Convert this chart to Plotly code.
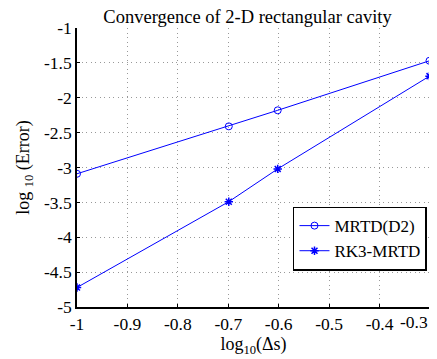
import plotly.graph_objects as go

log_ds = [-1.0, -0.699, -0.602, -0.301]
mrtd_d2 = [-3.09, -2.41, -2.18, -1.47]
rk3_mrtd = [-4.72, -3.49, -3.02, -1.69]

x_ticks = [-1, -0.9, -0.8, -0.7, -0.6, -0.5, -0.4, -0.3]
x_ticktext = ["-1", "-0.9", "-0.8", "-0.7", "-0.6", "-0.5", "-0.4", ""]
last_x_label = "-0.3"
y_ticks = [-5, -4.5, -4, -3.5, -3, -2.5, -2, -1.5, -1]
y_ticktext = ["-5", "-4.5", "-4", "-3.5", "-3", "-2.5", "-2", "-1.5", "-1"]

FONT = "Liberation Serif"
BLUE = "#0000ff"
TICK_SIZE = 17.5

fig = go.Figure()
fig.add_trace(go.Scatter(
    x=log_ds, y=mrtd_d2, mode="lines+markers", name="MRTD(D2)",
    line=dict(color=BLUE, width=1),
    marker=dict(symbol="circle-open", size=7, color=BLUE, line=dict(width=1, color=BLUE)),
))
fig.add_trace(go.Scatter(
    x=log_ds, y=rk3_mrtd, mode="lines+markers", name="RK3-MRTD",
    line=dict(color=BLUE, width=1),
    marker=dict(symbol="asterisk-open", size=7, color=BLUE, line=dict(width=1.5, color=BLUE)),
))

axis_common = dict(
    showline=True, linecolor="black", linewidth=1.5, mirror=False,
    ticks="inside", ticklen=3, tickcolor="black", tickwidth=1,
    showgrid=True, gridcolor="#999999", gridwidth=1, griddash="1px,3.5px",
    zeroline=False, automargin=False,
    tickfont=dict(family=FONT, size=TICK_SIZE, color="black"),
)

fig.update_xaxes(
    range=[-1, -0.3], tickvals=x_ticks, ticktext=x_ticktext,
    title=dict(text="log<sub>10</sub>(Δs)", font=dict(family=FONT, size=18, color="black"), standoff=5),
    **axis_common,
)
fig.update_yaxes(
    range=[-5, -1], tickvals=y_ticks, ticktext=y_ticktext,
    title=dict(text="log\u00a0<sub>10</sub>\u00a0(Error)\u00a0\u00a0\u00a0",
               font=dict(family=FONT, size=18, color="black"), standoff=10),
    **axis_common,
)

fig.add_annotation(
    x=-0.3, y=0, xref="x", yref="paper", text=last_x_label, showarrow=False,
    xanchor="right", yanchor="top", yshift=-3, xshift=0,
    font=dict(family=FONT, size=TICK_SIZE, color="black"),
)

# page body adds an 8px offset; the figure is sized so the visible window matches
fig.update_layout(
    width=429, height=351,
    margin=dict(l=68.5, r=7, t=20, b=52, pad=0),
    paper_bgcolor="white", plot_bgcolor="white",
    title=dict(text="Convergence of 2-D rectangular cavity",
               xref="container", x=0.5583, xanchor="center",
               yref="container", y=0.9943, yanchor="top", pad=dict(t=0, b=0),
               font=dict(family=FONT, size=18.5, color="black")),
    legend=dict(x=0.9915, y=0.36, xanchor="right", yanchor="top",
                bordercolor="black", borderwidth=1.5, bgcolor="white",
                font=dict(family=FONT, size=17, color="black"),
                tracegroupgap=0, itemwidth=30),
    showlegend=True,
)

fig.write_html("out.html")
